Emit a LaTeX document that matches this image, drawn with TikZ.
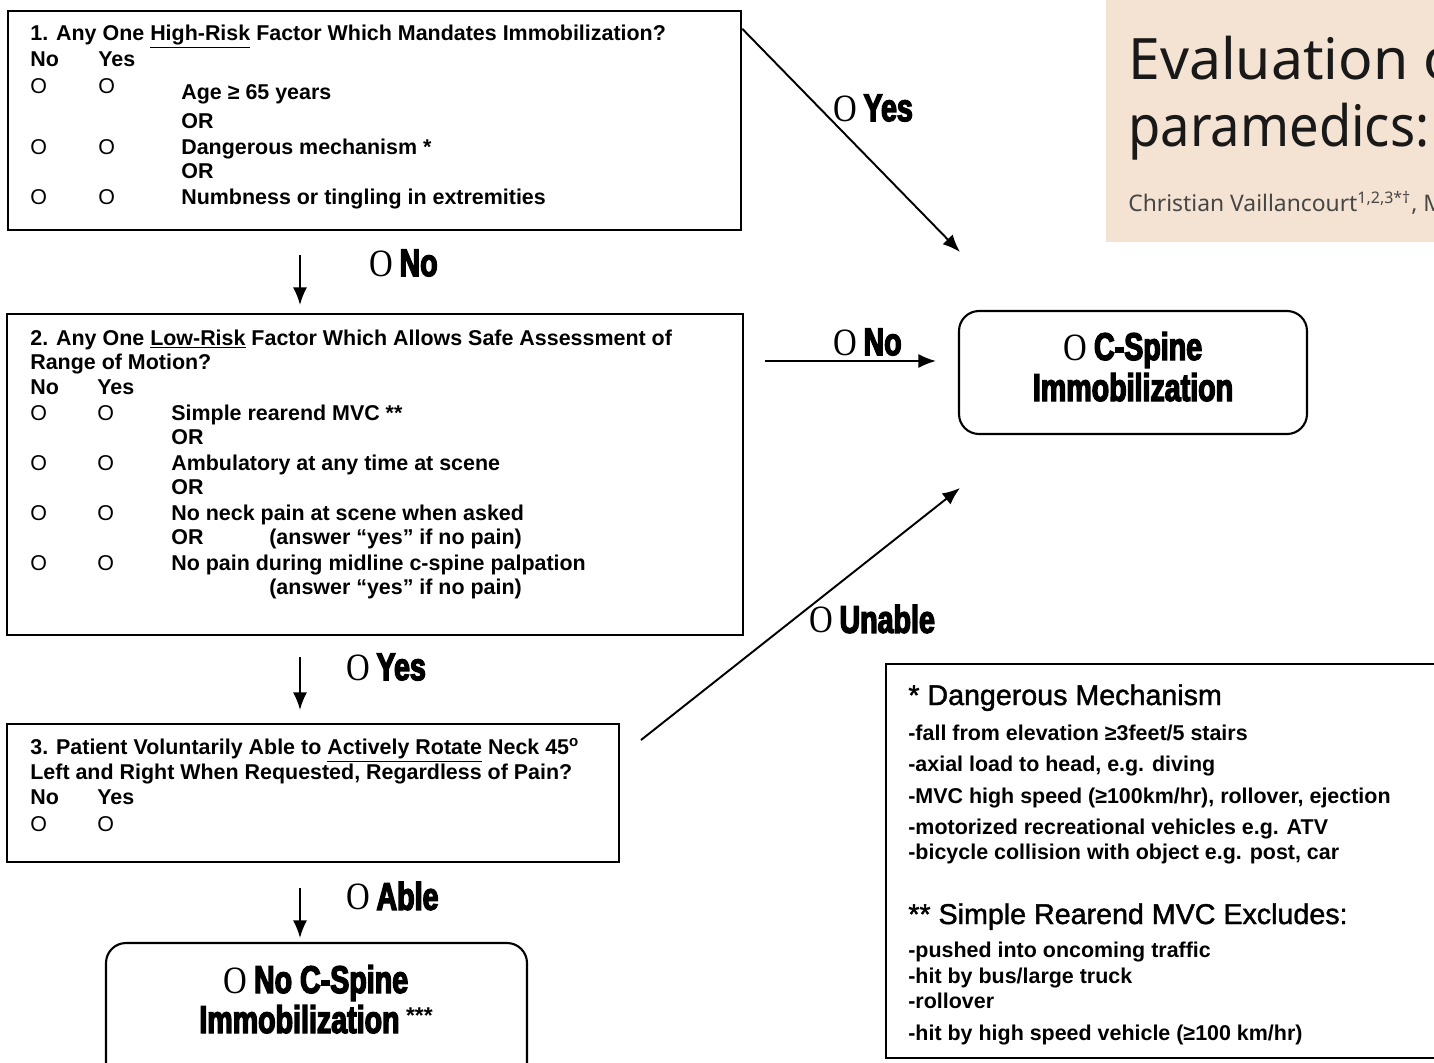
\documentclass[tikz,border=0pt]{standalone}
\usepackage{fontspec}
\setmainfont{Liberation Sans}
\newfontfamily\heavy{Liberation Sans Bold}[FakeStretch=0.74,FakeBold=3.5]
\newfontfamily\thinO{Liberation Serif}[FakeStretch=0.85]
\newfontfamily\semibold{Liberation Sans}[FakeBold=1.5]
\newfontfamily\titlefont{Noto Sans}
\newfontfamily\titlenarrow{Noto Sans}[FakeStretch=0.92]
\usetikzlibrary{arrows.meta,fit,positioning}
\definecolor{panel}{RGB}{244,227,210}
\definecolor{authorgray}{RGB}{70,70,70}
\newcommand\pick[1]{{\thinO O}\,{\heavy #1}}

\begin{document}
\begin{tikzpicture}[x=0.02cm,y=-0.02cm,
    qbox/.style={draw, line width=1.4pt, inner sep=0pt},
    endbox/.style={draw, line width=1.2pt, rounded corners=4mm, inner sep=0pt},
    txt/.style={anchor=base west, inner sep=0pt, font=\bfseries\fontsize{12.2}{14}\selectfont},
    ring/.style={anchor=base west, inner sep=0pt, font=\fontsize{12.2}{14}\selectfont},
    notehead/.style={anchor=base west, inner sep=0pt, font=\semibold\fontsize{16.3}{19}\selectfont},
    choice/.style={anchor=west, inner sep=0pt, font=\fontsize{22}{26}\selectfont},
    endtxt/.style={anchor=base, inner sep=0pt, font=\fontsize{22}{26}\selectfont},
    arr/.style={-{Latex[length=10pt,width=8pt]}, line width=1.1pt}]
\useasboundingbox (0,0) rectangle (1434,1062);
\clip (0,0) rectangle (1434,1062);

% title panel, top right
\node[fill=panel, fit={(1106,-10) (1445,242)}, inner sep=0pt] (head) {};
\node[anchor=base west, inner sep=0pt, font=\titlefont\fontsize{32.5}{36}\selectfont, text=black!90] (ttl1) at (1128,79) {Evaluation o};
\node[anchor=base west, inner sep=0pt, font=\titlenarrow\fontsize{32.5}{36}\selectfont, text=black!90] (ttl2) at (1128,146) {paramedics:};
\node[anchor=base west, inner sep=0pt, font=\titlefont\fontsize{13}{15}\selectfont, text=authorgray] (auth) at (1128,211) {Christian Vaillancourt\textsuperscript{1,2,3*†}, M};

% question 1
\node[qbox, fit={(8,11) (741,230)}] (q1) {};
\node[txt] (h1) at (30,40) {1. Any One \underline{High-Risk} Factor Which Mandates Immobilization?};
\node[txt] (no1) at (30,66) {No};
\node[txt] (yes1) at (98,66) {Yes};
\foreach \y [count=\i] in {93,154,204} {
  \node[ring] (n1\i) at (30,\y) {O};
  \node[ring] (y1\i) at (98,\y) {O};
}
\node[txt] (f11) at (181,99) {Age ≥ 65 years};
\node[txt] (or11) at (181,128) {OR};
\node[txt] (f12) at (181,154) {Dangerous mechanism *};
\node[txt] (or12) at (181,178) {OR};
\node[txt] (f13) at (181,204) {Numbness or tingling in extremities};

% question 2
\node[qbox, fit={(7,314) (743,635)}] (q2) {};
\node[txt] (h2) at (30,345) {2. Any One \underline{Low-Risk} Factor Which Allows Safe Assessment of};
\node[txt] (h2b) at (30,369) {Range of Motion?};
\node[txt] (no2) at (30,394) {No};
\node[txt] (yes2) at (97,394) {Yes};
\foreach \y [count=\i] in {420,470,520,570} {
  \node[ring] (n2\i) at (30,\y) {O};
  \node[ring] (y2\i) at (97,\y) {O};
}
\node[txt] (f21) at (171,420) {Simple rearend MVC **};
\node[txt] (or21) at (171,444) {OR};
\node[txt] (f22) at (171,470) {Ambulatory at any time at scene};
\node[txt] (or22) at (171,494) {OR};
\node[txt] (f23) at (171,520) {No neck pain at scene when asked};
\node[txt] (or23) at (171,544) {OR};
\node[txt] (a23) at (269,544) {(answer “yes” if no pain)};
\node[txt] (f24) at (171,570) {No pain during midline c-spine palpation};
\node[txt] (a24) at (269,594) {(answer “yes” if no pain)};

% question 3
\node[qbox, fit={(7,724) (619,862)}] (q3) {};
\node[txt] (h3) at (30,754) {3. Patient Voluntarily Able to \underline{Actively Rotate} Neck 45\textsuperscript{o}};
\node[txt] (h3b) at (30,779) {Left and Right When Requested, Regardless of Pain?};
\node[txt] (no3) at (30,804) {No};
\node[txt] (yes3) at (97,804) {Yes};
\node[ring] (n31) at (30,831) {O};
\node[ring] (y31) at (97,831) {O};

% outcomes
\node[endbox, fit={(959,311) (1307,434)}] (imm) {};
\node[endtxt] (imm1) at (1133,360) {\pick{C-Spine}};
\node[endtxt] (imm2) at (1133,401) {\heavy Immobilization};
\node[endbox, fit={(106,943) (527,1090)}] (free) {};
\node[endtxt] (free1) at (316,993) {\pick{No C-Spine}};
\node[endtxt] (free2) at (316,1033) {{\heavy Immobilization}\,\raisebox{0.45ex}{\bfseries\fontsize{13}{14}\selectfont***}};

% footnotes
\node[qbox, fit={(886,664) (1460,1058)}] (notes) {};
\node[notehead] (d0) at (908,705) {* Dangerous Mechanism};
\node[txt] (d1) at (908,740) {-fall from elevation ≥3feet/5 stairs};
\node[txt] (d2) at (908,771) {-axial load to head, e.g. diving};
\node[txt] (d3) at (908,803) {-MVC high speed (≥100km/hr), rollover, ejection};
\node[txt] (d4) at (908,834) {-motorized recreational vehicles e.g. ATV};
\node[txt] (d5) at (908,859) {-bicycle collision with object e.g. post, car};
\node[notehead] (s0) at (908,924) {** Simple Rearend MVC Excludes:};
\node[txt] (s1) at (908,957) {-pushed into oncoming traffic};
\node[txt] (s2) at (908,983) {-hit by bus/large truck};
\node[txt] (s3) at (908,1008) {-rollover};
\node[txt] (s4) at (908,1040) {-hit by high speed vehicle (≥100 km/hr)};

% connectors
\coordinate (yesB) at (960,252);
\coordinate (noA) at (765,361);
\coordinate (noB) at (936,361);
\coordinate (unA) at (641,740);
\coordinate (unB) at (960,488);
\coordinate (d1A) at (300,255);
\coordinate (d1B) at (300,305);
\coordinate (d2A) at (300,657);
\coordinate (d2B) at (300,710);
\coordinate (d3A) at (300,888);
\coordinate (d3B) at (300,938);
\draw[arr] (q1.north east) ++(0,19) -- (yesB);
\draw[arr] (noA) -- (noB);
\draw[arr] (unA) -- (unB);
\draw[arr] (d1A) -- (d1B);
\draw[arr] (d2A) -- (d2B);
\draw[arr] (d3A) -- (d3B);
\node[choice] (lyes1) at (833,108) {\pick{Yes}};
\node[choice] (lno1) at (369,263) {\pick{No}};
\node[choice] (lno2) at (833,342) {\pick{No}};
\node[choice] (lyes2) at (346,667) {\pick{Yes}};
\node[choice] (lun) at (809,619) {\pick{Unable}};
\node[choice] (lable) at (346,896) {\pick{Able}};
\end{tikzpicture}
\end{document}
